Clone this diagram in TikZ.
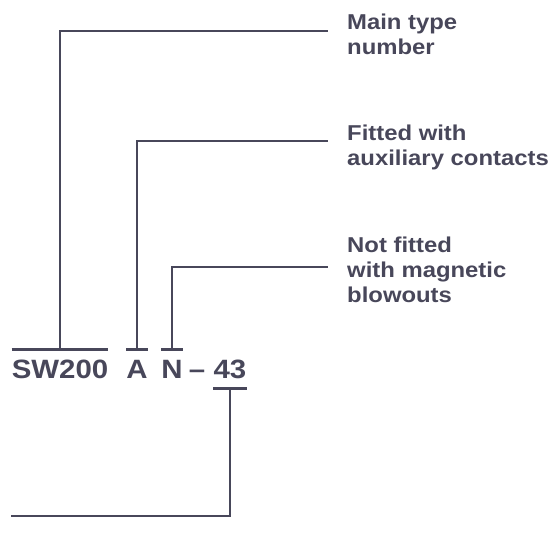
\documentclass[tikz,border=0pt]{standalone}
\usepackage{fontspec}
\setmainfont{Liberation Sans}[FakeStretch=1.11]
\definecolor{ink}{HTML}{48475A}
\tikzset{
  lbl/.style={font=\fontsize{21.5}{25}\selectfont\bfseries, text=ink, inner sep=0pt, align=left, anchor=base west},
  code/.style={font=\fontsize{26.5}{30}\selectfont\bfseries, text=ink, inner sep=0pt, anchor=base},
  wire/.style={draw=ink, line width=2.6pt},
}
\begin{document}
\begin{tikzpicture}[x=1pt,y=-1pt]
\useasboundingbox (0,0) rectangle (553,550);

% type designation
\node[code] (sw)  at (60,378)  {SW200};
\node[code] (a)   at (137,378) {A};
\node[code] (n)   at (172,378) {N};
\node[code] (dsh) at (197,378) {–};
\node[code] (num) at (230,378) {43};

% explanations (placed by the baseline of their last line)
\node[lbl] (mainlbl) at (347,54)  {Main type\\number};
\node[lbl] (auxlbl)  at (347,165) {Fitted with\\auxiliary contacts};
\node[lbl] (maglbl)  at (347,302) {Not fitted\\with magnetic\\blowouts};

\coordinate (mainend) at (328,31);
\coordinate (auxend)  at (328,141);
\coordinate (magend)  at (328,267);
\coordinate (tailend) at (11,516);

% brackets above the letters
\draw[wire] ([yshift=10pt]sw.north west) -- ([yshift=10pt]sw.north east);
\draw[wire] ([yshift=10pt]a.north west) -- ([yshift=10pt]a.north east);
\draw[wire] ([yshift=10pt]n.north west) -- ([yshift=10pt]n.north east);
% bracket below the number
\draw[wire] ([yshift=-10pt]num.south west) -- ([yshift=-10pt]num.south east);

% leader lines
\draw[wire] ([yshift=10pt]sw.north) |- (mainend);
\draw[wire] ([yshift=10pt]a.north) |- (auxend);
\draw[wire] ([yshift=10pt]n.north) |- (magend);
\draw[wire] ([yshift=-10pt]num.south) |- (tailend);
\end{tikzpicture}
\end{document}
